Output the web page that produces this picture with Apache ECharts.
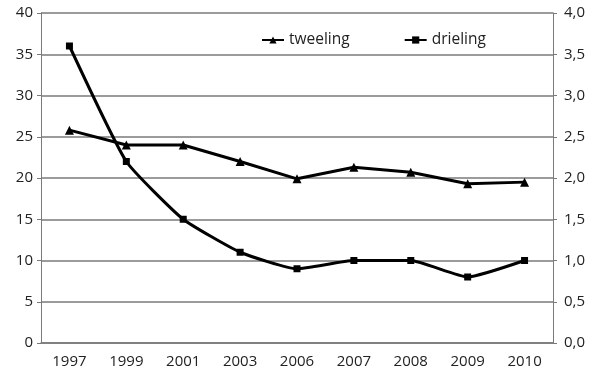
<!DOCTYPE html>
<html>
<head>
<meta charset="utf-8">
<script src="https://cdn.jsdelivr.net/npm/echarts@6/dist/echarts.min.js"></script>
<style>
  html, body { margin: 0; padding: 0; background: #fff; }
  #chart { width: 593px; height: 372px; }
</style>
</head>
<body>
<div id="chart"></div>
<script>
// Years on the category axis
const years = ['1997', '1999', '2001', '2003', '2006', '2007', '2008', '2009', '2010'];
// Twins (left axis)
const tweeling = [25.8, 24, 24, 22, 19.9, 21.3, 20.7, 19.3, 19.5];
// Triplets (right axis)
const drieling = [3.6, 2.2, 1.5, 1.1, 0.9, 1.0, 1.0, 0.8, 1.0];

const fontFamily = '"Open Sans", "Noto Sans", sans-serif';
const gridColor = '#7a7a7a';

const chart = echarts.init(document.getElementById('chart'));
chart.setOption({
  animation: false,
  backgroundColor: '#fff',
  textStyle: { fontFamily: fontFamily },
  legend: {
    top: 27,
    left: 256,
    itemGap: 54,
    itemWidth: 22,
    itemHeight: 9,
    textStyle: { fontSize: 15.5, color: '#222', fontFamily: fontFamily },
    data: ['tweeling', 'drieling']
  },
  grid: { left: 41, right: 40, top: 13, bottom: 29 },
  xAxis: {
    type: 'category',
    data: years,
    boundaryGap: true,
    axisLine: { lineStyle: { color: gridColor, width: 1.5 } },
    axisTick: { show: false },
    axisLabel: { fontSize: 15, color: '#222', margin: 11, fontFamily: fontFamily }
  },
  yAxis: [
    {
      type: 'value',
      min: 0, max: 40, interval: 5,
      axisLine: { show: true, lineStyle: { color: gridColor, width: 1 } },
      axisTick: { show: true, length: 4, lineStyle: { color: gridColor } },
      axisLabel: { fontSize: 15, color: '#222', margin: 8, fontFamily: fontFamily },
      splitLine: { lineStyle: { color: gridColor, width: 1.5 } }
    },
    {
      type: 'value',
      min: 0, max: 4, interval: 0.5,
      position: 'right',
      axisLine: { show: true, lineStyle: { color: gridColor, width: 1 } },
      axisTick: { show: true, length: 4, lineStyle: { color: gridColor } },
      axisLabel: {
        fontSize: 15, color: '#222', margin: 11, fontFamily: fontFamily,
        formatter: v => v.toFixed(1).replace('.', ',')
      },
      splitLine: { show: false }
    }
  ],
  series: [
    {
      name: 'tweeling',
      type: 'line',
      yAxisIndex: 0,
      data: tweeling,
      symbol: 'triangle',
      symbolSize: 9,
      showAllSymbol: true,
      lineStyle: { color: '#000', width: 3 },
      itemStyle: { color: '#000' }
    },
    {
      name: 'drieling',
      type: 'line',
      yAxisIndex: 1,
      data: drieling,
      symbol: 'rect',
      symbolSize: 7,
      smooth: 0.15,
      showAllSymbol: true,
      lineStyle: { color: '#000', width: 3 },
      itemStyle: { color: '#000' }
    }
  ]
});
</script>
</body>
</html>
